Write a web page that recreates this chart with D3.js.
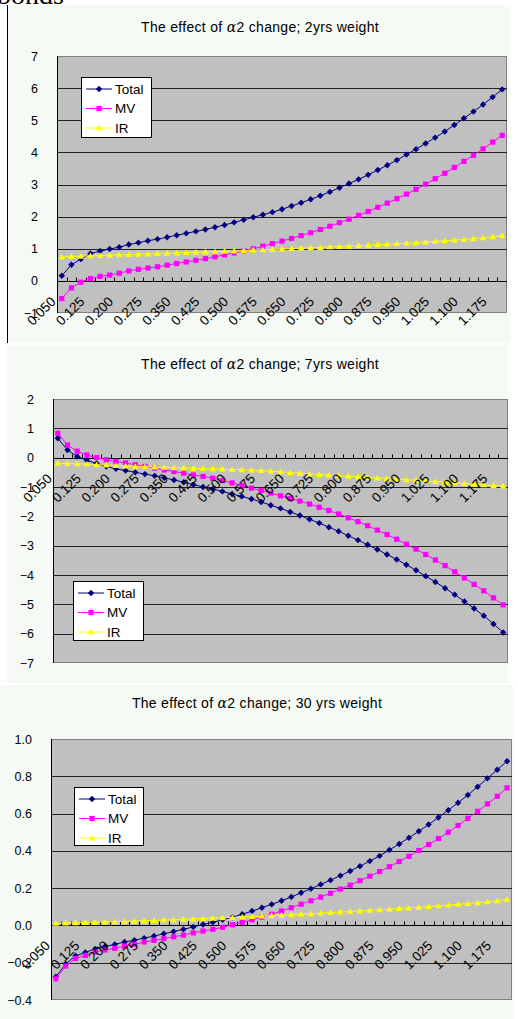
<!DOCTYPE html>
<html><head><meta charset="utf-8">
<script src="https://cdn.jsdelivr.net/npm/d3@7"></script>
<style>
html,body{margin:0;padding:0;background:#fff;}
svg{display:block;}
</style></head><body>
<svg id="c" width="518" height="1019"></svg>
<script>
const categories = ["0.050","0.075","0.100","0.125","0.150","0.175","0.200","0.225","0.250","0.275","0.300","0.325","0.350","0.375","0.400","0.425","0.450","0.475","0.500","0.525","0.550","0.575","0.600","0.625","0.650","0.675","0.700","0.725","0.750","0.775","0.800","0.825","0.850","0.875","0.900","0.925","0.950","0.975","1.000","1.025","1.050","1.075","1.100","1.125","1.150","1.175","1.200"];
const seriesNames = ["Total","MV","IR"];

// 2yrs weight
const total2yrs = [0.16,0.50,0.68,0.85,0.93,0.99,1.05,1.13,1.19,1.25,1.30,1.36,1.42,1.48,1.54,1.60,1.67,1.74,1.82,1.90,1.98,2.06,2.14,2.23,2.33,2.43,2.54,2.65,2.77,2.90,3.03,3.16,3.30,3.45,3.60,3.76,3.93,4.10,4.28,4.46,4.65,4.85,5.06,5.27,5.49,5.72,5.96];
const mv2yrs = [-0.55,-0.22,-0.04,0.07,0.14,0.18,0.24,0.31,0.36,0.40,0.44,0.49,0.54,0.59,0.64,0.69,0.75,0.81,0.87,0.93,1.00,1.08,1.16,1.24,1.32,1.41,1.50,1.60,1.70,1.81,1.92,2.04,2.16,2.29,2.42,2.56,2.70,2.85,3.01,3.18,3.35,3.53,3.72,3.91,4.11,4.32,4.53];
const ir2yrs = [0.74,0.76,0.77,0.78,0.79,0.80,0.81,0.82,0.83,0.84,0.85,0.86,0.87,0.88,0.89,0.90,0.91,0.92,0.93,0.94,0.96,0.97,0.98,0.99,1.00,1.02,1.03,1.04,1.06,1.07,1.08,1.10,1.11,1.13,1.14,1.16,1.17,1.19,1.21,1.23,1.25,1.27,1.29,1.31,1.34,1.37,1.41];

// 7yrs weight
const total7yrs = [0.66,0.26,0.04,-0.09,-0.20,-0.30,-0.38,-0.44,-0.50,-0.56,-0.62,-0.69,-0.76,-0.84,-0.92,-1.00,-1.07,-1.15,-1.24,-1.32,-1.41,-1.51,-1.62,-1.73,-1.85,-1.97,-2.10,-2.23,-2.37,-2.51,-2.66,-2.81,-2.97,-3.13,-3.30,-3.47,-3.65,-3.84,-4.04,-4.24,-4.45,-4.67,-4.90,-5.14,-5.39,-5.67,-5.96];
const mv7yrs = [0.83,0.43,0.22,0.09,0.00,-0.07,-0.13,-0.18,-0.24,-0.30,-0.36,-0.42,-0.47,-0.53,-0.59,-0.64,-0.70,-0.78,-0.86,-0.95,-1.04,-1.12,-1.21,-1.30,-1.39,-1.48,-1.58,-1.69,-1.80,-1.92,-2.05,-2.18,-2.32,-2.47,-2.62,-2.78,-2.95,-3.12,-3.30,-3.49,-3.68,-3.89,-4.10,-4.32,-4.54,-4.78,-5.02];
const ir7yrs = [-0.19,-0.20,-0.21,-0.22,-0.24,-0.25,-0.27,-0.28,-0.30,-0.31,-0.32,-0.33,-0.34,-0.35,-0.36,-0.37,-0.38,-0.39,-0.40,-0.41,-0.42,-0.44,-0.46,-0.48,-0.51,-0.53,-0.55,-0.57,-0.59,-0.61,-0.63,-0.65,-0.67,-0.69,-0.71,-0.73,-0.75,-0.77,-0.79,-0.82,-0.84,-0.86,-0.88,-0.90,-0.92,-0.95,-0.97];

// 30 yrs weight
const total30yrs = [-0.275,-0.206,-0.163,-0.145,-0.126,-0.113,-0.102,-0.089,-0.079,-0.068,-0.057,-0.045,-0.033,-0.021,-0.008,0.005,0.017,0.030,0.044,0.060,0.077,0.095,0.113,0.132,0.153,0.175,0.197,0.220,0.243,0.267,0.292,0.318,0.345,0.373,0.405,0.437,0.470,0.505,0.541,0.579,0.618,0.658,0.700,0.744,0.789,0.835,0.881];
const mv30yrs = [-0.286,-0.218,-0.177,-0.161,-0.143,-0.132,-0.123,-0.111,-0.102,-0.089,-0.080,-0.071,-0.061,-0.052,-0.040,-0.030,-0.021,-0.010,0.004,0.017,0.030,0.044,0.060,0.077,0.095,0.114,0.132,0.152,0.173,0.195,0.216,0.240,0.264,0.289,0.315,0.343,0.371,0.402,0.434,0.466,0.500,0.536,0.574,0.612,0.652,0.693,0.738];
const ir30yrs = [0.012,0.013,0.014,0.016,0.017,0.019,0.020,0.022,0.023,0.025,0.027,0.029,0.031,0.033,0.035,0.037,0.039,0.041,0.043,0.045,0.048,0.050,0.053,0.055,0.058,0.061,0.063,0.066,0.069,0.072,0.075,0.078,0.081,0.084,0.087,0.091,0.094,0.098,0.101,0.105,0.109,0.113,0.117,0.122,0.127,0.133,0.140];

const yTicks2yrs = [-1,0,1,2,3,4,5,6,7];
const yTicks7yrs = [-7,-6,-5,-4,-3,-2,-1,0,1,2];
const yTicks30yrs = [-0.4,-0.2,0.0,0.2,0.4,0.6,0.8,1.0];

const FONT = '"Liberation Sans", Arial, sans-serif';
const BG = '#f5faf5';
const colors = {Total:'#000080', MV:'#ff00ff', IR:'#ffff00'};
const symbols = {
  Total: 'M0,-3.2L3.2,0L0,3.2L-3.2,0Z',
  MV: 'M-2.6,-2.6H2.6V2.6H-2.6Z',
  IR: 'M0,-3.2L3.3,2.5H-3.3Z'
};

const svg = d3.select('#c');
svg.append('text').attr('x',-3).attr('y',4).attr('font-family','"Liberation Serif", serif')
  .attr('font-size',28).attr('fill','#000').text('bonds');

function drawChart(cfg){
  const g = svg.append('g');
  const a = cfg.area, p = cfg.plot;
  g.append('rect').attr('x',a.x).attr('y',a.y).attr('width',a.w).attr('height',a.h).attr('fill',BG);
  if (cfg.leftRule) g.append('line').attr('x1',a.x+0.5).attr('x2',a.x+0.5).attr('y1',a.y).attr('y2',a.y+a.h).attr('stroke','#000');

  const x = d3.scaleBand().domain(categories).range([p.l,p.r]).padding(0);
  const y = d3.scaleLinear().domain(cfg.yDomain).range([p.b,p.t]);
  const cx = c => x(c) + x.bandwidth()/2;

  // title
  const t = g.append('text').attr('x',cfg.titleX).attr('y',cfg.titleY).attr('text-anchor','middle')
    .attr('font-family',FONT).attr('font-size',14).attr('letter-spacing',0.3).attr('fill','#000');
  t.append('tspan').text('The effect of ');
  t.append('tspan').attr('font-style','italic').attr('font-family','"DejaVu Serif", serif').text('α');
  t.append('tspan').text(cfg.titleRest);

  // plot area
  g.append('rect').attr('x',p.l+0.5).attr('y',p.t+0.5).attr('width',p.r-p.l-1).attr('height',p.b-p.t-1)
    .attr('fill','#c0c0c0').attr('stroke','#808080');

  // gridlines
  const inner = cfg.yTicks.filter(v => Math.abs(v-cfg.yDomain[0])>1e-9 && Math.abs(v-cfg.yDomain[1])>1e-9 && Math.abs(v)>1e-9);
  g.append('g').selectAll('line').data(inner).join('line')
    .attr('x1',p.l).attr('x2',p.r)
    .attr('y1',v=>Math.round(y(v))+0.5).attr('y2',v=>Math.round(y(v))+0.5)
    .attr('stroke','#222').attr('stroke-width',1);

  // value axis
  const ya = g.append('g').attr('transform',`translate(${p.l},0)`)
    .call(d3.axisLeft(y).tickValues(cfg.yTicks).tickFormat(cfg.fmt).tickSize(0).tickPadding(19));
  ya.select('.domain').remove();
  ya.attr('font-family',FONT).attr('font-size',12.5);
  ya.selectAll('text').attr('fill','#000');
  g.append('line').attr('x1',p.l+0.5).attr('x2',p.l+0.5).attr('y1',p.t).attr('y2',p.b).attr('stroke','#000');

  // category axis at 0
  const y0 = Math.round(y(0))+0.5;
  g.append('line').attr('x1',p.l).attr('x2',p.r).attr('y1',y0).attr('y2',y0).attr('stroke','#000');
  g.append('g').selectAll('line').data(categories.slice(1)).join('line')
    .attr('x1',c=>Math.round(x(c))+0.5).attr('x2',c=>Math.round(x(c))+0.5)
    .attr('y1',y0-4).attr('y2',y0).attr('stroke','#000');

  // series
  const data = {Total:cfg.total, MV:cfg.mv, IR:cfg.ir};
  const line = d3.line().x((d,i)=>cx(categories[i])).y(d=>y(d));
  seriesNames.forEach(name => {
    const s = g.append('g');
    s.append('path').datum(data[name]).attr('d',line).attr('fill','none')
      .attr('stroke',colors[name]).attr('stroke-width',1);
    s.selectAll('path.m').data(data[name]).join('path').attr('class','m')
      .attr('d',symbols[name]).attr('fill',colors[name])
      .attr('transform',(d,i)=>`translate(${cx(categories[i])},${y(d)})`);
  });

  // category labels
  const labeled = categories.filter((c,i)=>i%3===0);
  const xa = g.append('g').attr('transform',`translate(0,${y0})`)
    .call(d3.axisBottom(x).tickValues(labeled).tickSize(0));
  xa.select('.domain').remove();
  xa.attr('font-family',FONT).attr('font-size',13.5);
  xa.selectAll('text').attr('fill','#000').attr('x',0).attr('y',0).attr('dy','0.72em')
    .attr('text-anchor','end')
    .attr('transform','translate(-12,14) rotate(-45)');

  // legend
  const L = cfg.legend;
  const lg = g.append('g');
  lg.append('rect').attr('x',L.x+0.5).attr('y',L.y+0.5).attr('width',L.w).attr('height',L.h)
    .attr('fill','#fff').attr('stroke','#000');
  seriesNames.forEach((name,i) => {
    const yy = L.y + 12 + i*19.5;
    lg.append('line').attr('x1',L.x+5).attr('x2',L.x+31).attr('y1',yy).attr('y2',yy)
      .attr('stroke',colors[name]).attr('stroke-width',1);
    lg.append('path').attr('d',symbols[name]).attr('fill',colors[name]).attr('transform',`translate(${L.x+18},${yy})`);
    lg.append('text').attr('x',L.x+34).attr('y',yy).attr('dy','0.36em').attr('font-family',FONT)
      .attr('font-size',13.5).attr('fill','#000').text(name);
  });
}

drawChart({
  area:{x:7,y:5,w:504,h:338}, leftRule:true,
  plot:{l:57,t:56,r:507,b:313},
  yDomain:[-1,7], yTicks:yTicks2yrs, fmt:d3.format('d'),
  titleX:260, titleY:32, titleRest:'2 change; 2yrs weight',
  total:total2yrs, mv:mv2yrs, ir:ir2yrs,
  legend:{x:81,y:77,w:70,h:60}
});
drawChart({
  area:{x:7,y:345,w:501,h:338}, leftRule:false,
  plot:{l:53,t:399,r:508,b:663},
  yDomain:[-7,2], yTicks:yTicks7yrs, fmt:d3.format('d'),
  titleX:260, titleY:369, titleRest:'2 change; 7yrs weight',
  total:total7yrs, mv:mv7yrs, ir:ir7yrs,
  legend:{x:73,y:581,w:70,h:59}
});
drawChart({
  area:{x:0,y:685,w:513,h:334}, leftRule:false,
  plot:{l:51,t:739,r:512,b:1000},
  yDomain:[-0.4,1.0], yTicks:yTicks30yrs, fmt:d3.format('.1f'),
  titleX:257, titleY:708, titleRest:'2 change; 30 yrs weight',
  total:total30yrs, mv:mv30yrs, ir:ir30yrs,
  legend:{x:74,y:787,w:69,h:58}
});
</script>
</body></html>
